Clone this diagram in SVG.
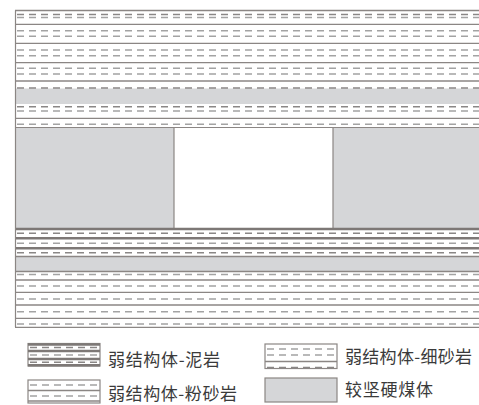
<svg xmlns="http://www.w3.org/2000/svg" width="479" height="405" viewBox="0 0 479 405">
  <style>
    .solid { stroke: #8b8684; stroke-width: 1.3; fill: none; }
    .band { stroke: #7d7876; stroke-width: 2.6; fill: none; }
    .dash { stroke: #a3a3a3; stroke-width: 1.4; stroke-dasharray: 7 5; fill: none; }
    .dashd { stroke: #8a8786; stroke-width: 1.5; stroke-dasharray: 7 5; fill: none; }
    .coal { fill: #d5d6d8; }
    .edge { stroke: #8b8684; stroke-width: 1.2; fill: none; }
    .label { font-family: "Noto Sans CJK SC", "Noto Sans", sans-serif; font-size: 17px; fill: #3a3a3a; }
  </style>

  <rect width="479" height="405" fill="#ffffff"/>

  <!-- upper strata: fine sandstone layers -->
  <g id="upper-strata">
    <line class="solid" x1="15" y1="10.5" x2="479" y2="10.5"/>
    <line class="dashd" x1="17" y1="14.5" x2="479" y2="14.5"/>
    <line class="dash" x1="17" y1="17.5" x2="479" y2="17.5"/>
    <line class="solid" x1="15" y1="24.3" x2="479" y2="24.3"/>
    <line class="dash" x1="17" y1="30.7" x2="479" y2="30.7"/>
    <line class="dash" x1="17" y1="36.3" x2="479" y2="36.3"/>
    <line class="solid" x1="15" y1="43.3" x2="479" y2="43.3"/>
    <line class="dash" x1="17" y1="50" x2="479" y2="50"/>
    <line class="dash" x1="17" y1="55.7" x2="479" y2="55.7"/>
    <line class="solid" x1="15" y1="62.7" x2="479" y2="62.7"/>
    <line class="dash" x1="17" y1="68.3" x2="479" y2="68.3"/>
    <line class="dash" x1="17" y1="74" x2="479" y2="74"/>
    <line class="solid" x1="15" y1="81" x2="479" y2="81"/>
  </g>

  <!-- thin coal band -->
  <g id="upper-coal-band">
    <rect class="coal" x="15" y="88.5" width="464" height="15.5"/>
    <line class="dashd" x1="17" y1="88" x2="479" y2="88"/>
    <line class="dashd" x1="17" y1="106.7" x2="479" y2="106.7"/>
    <line class="dash" x1="17" y1="111" x2="479" y2="111"/>
    <line class="solid" x1="15" y1="118.3" x2="479" y2="118.3"/>
    <line class="dash" x1="17" y1="124.3" x2="479" y2="124.3"/>
  </g>

  <!-- coal seam with the opening in the middle -->
  <g id="coal-seam">
    <rect class="coal" x="15" y="127.5" width="159" height="100.5"/>
    <rect class="coal" x="333" y="127.5" width="146" height="100.5"/>
    <line class="edge" x1="174" y1="127.5" x2="174" y2="228"/>
    <line class="edge" x1="333" y1="127.5" x2="333" y2="228"/>
    <line class="edge" x1="15" y1="127.5" x2="479" y2="127.5"/>
  </g>

  <!-- mudstone layers below the seam -->
  <g id="mudstone">
    <line class="band" x1="15" y1="229" x2="479" y2="229"/>
    <line class="dashd" x1="17" y1="233.3" x2="479" y2="233.3"/>
    <line class="band" x1="15" y1="238.3" x2="479" y2="238.3"/>
    <line class="dash" x1="17" y1="243.3" x2="479" y2="243.3"/>
    <line class="band" x1="15" y1="248.3" x2="479" y2="248.3"/>
    <line class="dashd" x1="17" y1="252.7" x2="479" y2="252.7"/>
  </g>

  <!-- lower coal band -->
  <g id="lower-coal-band">
    <rect class="coal" x="15" y="256.5" width="464" height="15"/>
    <line class="solid" x1="15" y1="256.5" x2="479" y2="256.5"/>
    <line class="solid" x1="15" y1="271.5" x2="479" y2="271.5"/>
  </g>

  <!-- lower strata: siltstone layers -->
  <g id="lower-strata">
    <line class="dash" x1="17" y1="274.5" x2="479" y2="274.5"/>
    <line class="solid" x1="15" y1="280" x2="479" y2="280"/>
    <line class="dash" x1="17" y1="286" x2="479" y2="286"/>
    <line class="solid" x1="15" y1="292.3" x2="479" y2="292.3"/>
    <line class="dash" x1="17" y1="299" x2="479" y2="299"/>
    <line class="solid" x1="15" y1="305" x2="479" y2="305"/>
    <line class="dash" x1="17" y1="311.7" x2="479" y2="311.7"/>
    <line class="solid" x1="15" y1="318.3" x2="479" y2="318.3"/>
    <line class="dash" x1="17" y1="324" x2="479" y2="324"/>
    <line class="solid" x1="15" y1="327.3" x2="479" y2="327.3"/>
  </g>

  <!-- left border of the section -->
  <line class="edge" x1="15.5" y1="10.5" x2="15.5" y2="327.3"/>

  <!-- legend -->
  <g id="legend-mudstone">
    <rect x="28" y="343.5" width="72" height="22.5" fill="#ffffff" class="edge"/>
    <line class="band" x1="28" y1="344.5" x2="100" y2="344.5"/>
    <line class="dashd" x1="30" y1="347.5" x2="100" y2="347.5"/>
    <line class="band" x1="28" y1="351" x2="100" y2="351"/>
    <line class="dash" x1="30" y1="355" x2="100" y2="355"/>
    <line class="band" x1="28" y1="359" x2="100" y2="359"/>
    <line class="dashd" x1="30" y1="362.3" x2="100" y2="362.3"/>
    <line class="band" x1="28" y1="365.3" x2="100" y2="365.3"/>
    <text class="label" x="108" y="366" textLength="112" lengthAdjust="spacing">弱结构体-泥岩</text>
  </g>

  <g id="legend-siltstone">
    <rect x="28" y="380" width="72" height="23" fill="#ffffff" class="edge"/>
    <line class="dash" x1="30" y1="385" x2="100" y2="385"/>
    <line class="solid" x1="28" y1="390.5" x2="100" y2="390.5"/>
    <line class="dash" x1="30" y1="396" x2="100" y2="396"/>
    <line class="solid" x1="28" y1="401" x2="100" y2="401"/>
    <text class="label" x="108" y="400" textLength="129" lengthAdjust="spacing">弱结构体-粉砂岩</text>
  </g>

  <g id="legend-fine-sandstone">
    <rect x="265" y="344" width="72" height="24.5" fill="#ffffff" class="edge"/>
    <line class="dash" x1="267" y1="349" x2="337" y2="349"/>
    <line class="dash" x1="267" y1="355" x2="337" y2="355"/>
    <line class="solid" x1="265" y1="361.5" x2="337" y2="361.5"/>
    <line class="dashd" x1="267" y1="367.5" x2="337" y2="367.5"/>
    <text class="label" x="345" y="363" textLength="127" lengthAdjust="spacing">弱结构体-细砂岩</text>
  </g>

  <g id="legend-coal">
    <rect x="265" y="378" width="72" height="24" class="coal"/>
    <rect x="265" y="378" width="72" height="24" class="edge"/>
    <text class="label" x="345" y="396" textLength="88" lengthAdjust="spacing">较坚硬煤体</text>
  </g>
</svg>
